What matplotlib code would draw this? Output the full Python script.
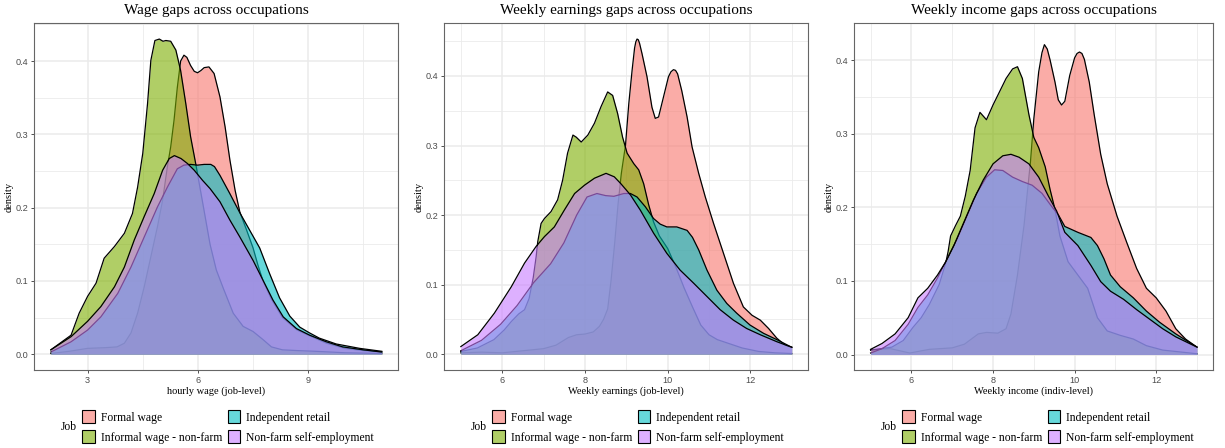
import matplotlib
matplotlib.use("Agg")
import matplotlib.pyplot as plt
from matplotlib.patches import Patch
from matplotlib.colors import to_rgba
import numpy as np

""" Data (density curves read from the figure) """
jobs = ["Formal wage", "Informal wage - non-farm", "Independent retail", "Non-farm self-employment"]
job_colors = ["#F8766D", "#7CAE00", "#00BFC4", "#C77CFF"]

# hourly wage (job-level)
wage_formal_x = [2.0, 2.5, 3.0, 3.5, 3.8, 4.0, 4.18, 4.36, 4.54, 4.72, 4.9, 5.04, 5.17, 5.26, 5.35, 5.44, 5.53, 5.62,
                 5.7, 5.8, 5.9, 5.99, 6.08, 6.17, 6.3, 6.44, 6.6, 6.74, 6.87, 7.01, 7.14, 7.32, 7.5, 7.63, 7.77, 8.0,
                 8.3, 8.7, 9.0, 9.5, 10.0, 10.5, 11.0]
wage_formal_y = [0.001, 0.004, 0.008, 0.009, 0.01, 0.015, 0.029, 0.056, 0.092, 0.133, 0.174, 0.21, 0.256, 0.283, 0.319,
                 0.364, 0.4, 0.408, 0.405, 0.394, 0.386, 0.384, 0.387, 0.391, 0.392, 0.383, 0.351, 0.31, 0.265, 0.224,
                 0.194, 0.17, 0.145, 0.122, 0.1, 0.075, 0.05, 0.033, 0.026, 0.015, 0.008, 0.005, 0.003]
wage_informal_x = [2.0, 2.55, 2.77, 3.0, 3.23, 3.45, 3.73, 4.0, 4.22, 4.36, 4.5, 4.63, 4.72, 4.83, 4.95, 5.05, 5.13,
                   5.26, 5.4, 5.53, 5.67, 5.8, 5.94, 6.1, 6.33, 6.5, 6.69, 6.96, 7.23, 7.5, 7.77, 8.0, 8.3, 8.7, 9.2,
                   10.0, 11.0]
wage_informal_y = [0.006, 0.026, 0.056, 0.079, 0.097, 0.131, 0.147, 0.165, 0.192, 0.228, 0.274, 0.342, 0.401, 0.428,
                   0.43, 0.427, 0.428, 0.427, 0.415, 0.387, 0.342, 0.297, 0.26, 0.215, 0.15, 0.115, 0.09, 0.056, 0.038,
                   0.031, 0.02, 0.01, 0.006, 0.005, 0.004, 0.002, 0.001]
wage_retail_x = [2.0, 2.55, 3.0, 3.36, 3.82, 4.18, 4.54, 4.9, 5.17, 5.44, 5.62, 5.8, 5.99, 6.17, 6.35, 6.45, 6.6, 6.87,
                 7.14, 7.41, 7.68, 7.95, 8.22, 8.5, 8.77, 9.04, 9.3, 9.76, 10.4, 11.0]
wage_retail_y = [0.003, 0.017, 0.033, 0.051, 0.083, 0.119, 0.16, 0.201, 0.228, 0.253, 0.258, 0.259, 0.258, 0.259, 0.259,
                 0.256, 0.244, 0.219, 0.193, 0.169, 0.145, 0.11, 0.077, 0.052, 0.037, 0.029, 0.022, 0.014, 0.008, 0.004]
wage_selfemp_x = [2.0, 2.55, 3.0, 3.36, 3.73, 4.0, 4.27, 4.54, 4.81, 5.04, 5.22, 5.36, 5.54, 5.72, 5.9, 6.13, 6.33, 6.6,
                  6.87, 7.14, 7.5, 7.77, 8.04, 8.32, 8.68, 9.04, 9.49, 9.94, 10.5, 11.0]
wage_selfemp_y = [0.006, 0.024, 0.045, 0.065, 0.092, 0.119, 0.156, 0.188, 0.219, 0.251, 0.267, 0.271, 0.267, 0.26,
                  0.251, 0.237, 0.226, 0.208, 0.183, 0.16, 0.128, 0.101, 0.074, 0.051, 0.035, 0.026, 0.017, 0.01,
                  0.006, 0.003]

# weekly earnings (job-level)
earn_formal_x = [5.0, 5.5, 6.0, 6.5, 7.0, 7.3, 7.6, 7.8, 8.0, 8.2, 8.35, 8.45, 8.55, 8.63, 8.72, 8.8, 8.88, 8.98, 9.06,
                 9.14, 9.2, 9.23, 9.26, 9.29, 9.32, 9.38, 9.5, 9.62, 9.7, 9.78, 9.9, 10.02, 10.08, 10.14, 10.19,
                 10.24, 10.34, 10.47, 10.59, 10.75, 10.91, 11.11, 11.35, 11.59, 11.83, 12.04, 12.24, 12.44, 12.64,
                 12.84, 13.0]
earn_formal_y = [0.002, 0.003, 0.002, 0.005, 0.008, 0.013, 0.024, 0.028, 0.029, 0.032, 0.04, 0.05, 0.065, 0.105, 0.16,
                 0.215, 0.26, 0.3, 0.36, 0.408, 0.44, 0.449, 0.453, 0.452, 0.447, 0.432, 0.399, 0.355, 0.339, 0.341,
                 0.37, 0.399, 0.406, 0.409, 0.408, 0.403, 0.379, 0.341, 0.298, 0.26, 0.226, 0.188, 0.145, 0.102,
                 0.068, 0.056, 0.049, 0.037, 0.023, 0.013, 0.01]
earn_informal_x = [5.0, 5.4, 5.8, 6.05, 6.22, 6.4, 6.54, 6.65, 6.75, 6.82, 6.86, 6.94, 7.02, 7.18, 7.34, 7.46, 7.58,
                   7.71, 7.79, 7.91, 8.07, 8.23, 8.39, 8.55, 8.67, 8.79, 8.91, 9.02, 9.18, 9.3, 9.42, 9.54, 9.66, 9.8,
                   10.0, 10.2, 10.4, 10.6, 10.8, 11.0, 11.2, 11.5, 11.8, 12.2, 12.6, 13.0]
earn_informal_y = [0.004, 0.009, 0.021, 0.035, 0.047, 0.058, 0.064, 0.08, 0.11, 0.14, 0.162, 0.188, 0.195, 0.205,
                   0.222, 0.25, 0.289, 0.315, 0.312, 0.305, 0.315, 0.332, 0.356, 0.377, 0.372, 0.346, 0.312, 0.289,
                   0.274, 0.265, 0.245, 0.215, 0.19, 0.17, 0.152, 0.125, 0.095, 0.068, 0.042, 0.028, 0.021, 0.015,
                   0.009, 0.004, 0.002, 0.001]
earn_retail_x = [5.0, 5.5, 5.96, 6.36, 6.76, 7.17, 7.49, 7.8, 8.05, 8.29, 8.5, 8.7, 8.94, 9.1, 9.26, 9.46, 9.66, 9.82,
                 9.98, 10.22, 10.47, 10.6, 10.75, 10.95, 11.19, 11.43, 11.67, 11.99, 12.32, 12.64, 13.0]
earn_retail_y = [0.005, 0.02, 0.043, 0.07, 0.103, 0.13, 0.16, 0.2, 0.226, 0.231, 0.228, 0.227, 0.231, 0.231, 0.226,
                 0.212, 0.195, 0.187, 0.183, 0.183, 0.178, 0.168, 0.15, 0.121, 0.092, 0.073, 0.059, 0.042, 0.03,
                 0.021, 0.01]
earn_selfemp_x = [5.0, 5.41, 5.81, 6.22, 6.54, 6.82, 7.02, 7.26, 7.5, 7.75, 7.99, 8.23, 8.51, 8.71, 8.87, 9.0, 9.1,
                  9.34, 9.66, 9.98, 10.3, 10.63, 10.95, 11.27, 11.59, 11.91, 12.24, 12.64, 13.0]
earn_selfemp_y = [0.011, 0.028, 0.059, 0.097, 0.131, 0.155, 0.169, 0.183, 0.207, 0.231, 0.243, 0.253, 0.26, 0.255,
                  0.245, 0.236, 0.229, 0.207, 0.174, 0.145, 0.121, 0.102, 0.083, 0.064, 0.049, 0.037, 0.028, 0.018,
                  0.01]

# weekly income (indiv-level)
inc_formal_x = [5.0, 5.48, 5.96, 6.44, 7.0, 7.3, 7.64, 7.84, 8.12, 8.32, 8.44, 8.6, 8.76, 8.92, 9.0, 9.12, 9.2, 9.26,
                9.33, 9.4, 9.52, 9.6, 9.68, 9.76, 9.88, 10.0, 10.06, 10.12, 10.18, 10.24, 10.36, 10.48, 10.64, 10.8,
                11.04, 11.28, 11.52, 11.76, 12.0, 12.24, 12.48, 12.72, 13.0]
inc_formal_y = [0.006, 0.008, 0.002, 0.007, 0.009, 0.014, 0.028, 0.03, 0.029, 0.035, 0.055, 0.108, 0.175, 0.263, 0.32,
                0.384, 0.41, 0.421, 0.415, 0.4, 0.37, 0.346, 0.339, 0.344, 0.379, 0.403, 0.409, 0.411, 0.409, 0.401,
                0.37, 0.326, 0.272, 0.232, 0.188, 0.152, 0.117, 0.09, 0.077, 0.059, 0.035, 0.021, 0.01]
inc_informal_x = [5.0, 5.52, 5.8, 6.04, 6.24, 6.44, 6.68, 6.84, 6.9, 6.96, 7.08, 7.2, 7.32, 7.44, 7.56, 7.68, 7.84,
                  8.0, 8.16, 8.32, 8.48, 8.6, 8.72, 8.88, 9.0, 9.12, 9.28, 9.4, 9.52, 9.64, 9.84, 10.08, 10.32, 10.56,
                  10.8, 11.12, 11.44, 11.76, 12.16, 13.0]
inc_informal_y = [0.006, 0.01, 0.019, 0.037, 0.05, 0.068, 0.095, 0.124, 0.14, 0.161, 0.175, 0.188, 0.215, 0.25, 0.308,
                  0.329, 0.319, 0.339, 0.357, 0.375, 0.388, 0.391, 0.375, 0.326, 0.295, 0.281, 0.255, 0.224, 0.197,
                  0.161, 0.126, 0.108, 0.09, 0.05, 0.032, 0.026, 0.021, 0.012, 0.006, 0.001]
inc_retail_x = [5.0, 5.28, 5.6, 5.92, 6.16, 6.4, 6.64, 6.88, 7.12, 7.36, 7.6, 7.84, 8.04, 8.24, 8.48, 8.72, 8.96, 9.2,
                9.44, 9.6, 9.76, 10.08, 10.4, 10.56, 10.72, 10.88, 11.12, 11.44, 11.76, 12.08, 12.48, 13.0]
inc_retail_y = [0.002, 0.008, 0.019, 0.041, 0.064, 0.081, 0.104, 0.13, 0.157, 0.188, 0.219, 0.241, 0.251, 0.25, 0.241,
                0.235, 0.23, 0.219, 0.201, 0.19, 0.174, 0.166, 0.159, 0.148, 0.13, 0.108, 0.092, 0.077, 0.059, 0.044,
                0.028, 0.01]
inc_selfemp_x = [5.0, 5.28, 5.6, 5.92, 6.16, 6.4, 6.64, 6.84, 7.04, 7.28, 7.52, 7.76, 8.0, 8.24, 8.44, 8.64, 8.88, 9.12,
                 9.36, 9.56, 9.76, 10.08, 10.4, 10.64, 10.88, 11.2, 11.52, 11.84, 12.16, 12.48, 13.0]
inc_selfemp_y = [0.007, 0.015, 0.028, 0.05, 0.077, 0.09, 0.108, 0.126, 0.148, 0.179, 0.21, 0.237, 0.259, 0.27, 0.272,
                 0.268, 0.259, 0.241, 0.215, 0.195, 0.166, 0.148, 0.121, 0.099, 0.086, 0.075, 0.061, 0.048, 0.035,
                 0.024, 0.01]

panels = [
    {"title": "Wage gaps across occupations", "xlabel": "hourly wage (job-level)",
     "xticks": [3, 6, 9], "xminor": [4.5, 7.5, 10.5],
     "curves": [(wage_formal_x, wage_formal_y), (wage_informal_x, wage_informal_y),
                (wage_retail_x, wage_retail_y), (wage_selfemp_x, wage_selfemp_y)]},
    {"title": "Weekly earnings gaps across occupations", "xlabel": "Weekly earnings (job-level)",
     "xticks": [6, 8, 10, 12], "xminor": [5, 7, 9, 11, 13],
     "curves": [(earn_formal_x, earn_formal_y), (earn_informal_x, earn_informal_y),
                (earn_retail_x, earn_retail_y), (earn_selfemp_x, earn_selfemp_y)]},
    {"title": "Weekly income gaps across occupations", "xlabel": "Weekly income (indiv-level)",
     "xticks": [6, 8, 10, 12], "xminor": [5, 7, 9, 11, 13],
     "curves": [(inc_formal_x, inc_formal_y), (inc_informal_x, inc_informal_y),
                (inc_retail_x, inc_retail_y), (inc_selfemp_x, inc_selfemp_y)]},
]

""" Layout (pixels) """
W, H = 1225, 448
axes_px = [(34.3, 398.3), (444.3, 808.3), (854.3, 1213.3)]
top_px, bottom_px = 23.3, 370.0
serif = "Liberation Serif"
sans = "Liberation Sans"
alpha = 0.6


def plot_density_panel(fig, left, right, panel):
    ax = fig.add_axes([left / W, 1 - bottom_px / H, (right - left) / W, (bottom_px - top_px) / H])
    for i, (xs, ys) in enumerate(panel["curves"]):
        ax.fill_between(xs, 0, ys, color=job_colors[i], alpha=alpha, linewidth=0, zorder=2 + 2 * i)
        ax.plot(xs, ys, color="black", linewidth=0.9, zorder=3 + 2 * i)
    ax.margins(x=0.05, y=0.05)

    ax.set_xticks(panel["xticks"])
    ax.set_xticks(panel["xminor"], minor=True)
    ax.set_yticks([0.0, 0.1, 0.2, 0.3, 0.4])
    ax.set_yticks([0.05, 0.15, 0.25, 0.35, 0.45], minor=True)
    ax.set_yticklabels(["0.0", "0.1", "0.2", "0.3", "0.4"])
    ax.grid(which="major", color="#EBEBEB", linewidth=1.1)
    ax.grid(which="minor", color="#EBEBEB", linewidth=0.6)
    ax.set_axisbelow(True)
    ax.tick_params(which="major", length=2.5, width=0.6, color="#333333", labelcolor="#4D4D4D",
                   labelsize=6.6, pad=2)
    ax.tick_params(which="minor", length=0)
    for lab in ax.get_xticklabels() + ax.get_yticklabels():
        lab.set_family(sans)
    for s in ax.spines.values():
        s.set_color("#666666")
        s.set_linewidth(0.8)

    ax.set_title(panel["title"], family=serif, fontsize=11, pad=6.5)
    ax.set_xlabel(panel["xlabel"], family=serif, fontsize=7.5, labelpad=1)
    ax.set_ylabel("density", family=serif, fontsize=7.5, labelpad=1)

    """ Legend below panel """
    handles = [Patch(facecolor=to_rgba(c, alpha), edgecolor="black", linewidth=0.8) for c in job_colors]
    fig.legend(handles, jobs, loc="center left", bbox_to_anchor=((left + 48) / W, 1 - 427 / H), ncol=2,
               frameon=False, prop={"family": serif, "size": 8.4}, handlelength=1.1, handleheight=1.35,
               handletextpad=0.5, columnspacing=0.45, labelspacing=0.55, borderpad=0, borderaxespad=0)
    fig.text((left + 26.4) / W, 1 - 427 / H, "Job", family=serif, fontsize=8.4, ha="left", va="center")
    return ax


fig = plt.figure(figsize=(W / 100, H / 100), dpi=100)
for (left, right), panel in zip(axes_px, panels):
    plot_density_panel(fig, left, right, panel)

fig.savefig("out.png", dpi=100)
